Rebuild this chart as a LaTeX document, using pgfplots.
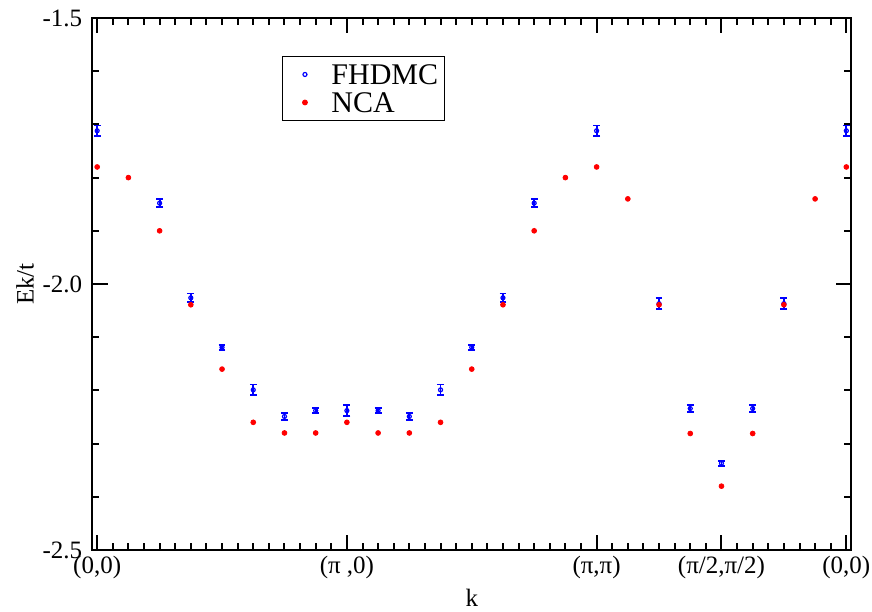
\documentclass[border=0pt]{standalone}
\usepackage{fontspec}
\setmainfont{Liberation Serif}
\usepackage{pgfplots}
\pgfplotsset{compat=1.18}
\begin{document}
\begin{tikzpicture}
\path[use as bounding box] (-46.25pt,-30.5pt) rectangle (389.75pt,275pt);
\begin{axis}[
  scale only axis,
  width=379.25pt, height=266pt,
  xmin=-0.15, xmax=24.15,
  ymin=-2.5, ymax=-1.5,
  axis line style={line width=1pt},
  every tick/.style={black, line width=1pt},
  tick align=inside,
  major tick length=7.5pt,
  minor tick length=3.5pt,
  xtick={0,8,16,20,24},
  xticklabels={(0,0),(π ,0),(π,π),(π/2,π/2),(0,0)},
  minor xtick={0,0.5,...,24},
  ytick={-2.5,-2.0,-1.5},
  yticklabels={-2.5,-2.0,-1.5},
  minor ytick={-2.4,-2.3,-2.2,-2.1,-1.9,-1.8,-1.7,-1.6},
  tick label style={font=\fontsize{12.5}{14}\selectfont},
  yticklabel style={inner sep=0pt, xshift=-5pt},
  xticklabel style={inner sep=0pt, yshift=-3pt},
  xlabel={k},
  ylabel={Ek/t},
  every axis x label/.style={at={(axis description cs:0.5,0)}, anchor=center, yshift=-24pt, inner sep=0pt, font=\fontsize{12.5}{14}\selectfont},
  every axis y label/.style={at={(axis description cs:0,0.5)}, xshift=-33.75pt, anchor=center, rotate=90, inner sep=0pt, font=\fontsize{12.5}{14}\selectfont},
  legend style={at={(0.2498,0.9286)}, anchor=north west, draw=black, line width=0.5pt,
    font=\fontsize{15}{15}\selectfont, row sep=4pt, column sep=5pt,
    inner xsep=3pt, inner ysep=4pt,
    nodes={inner sep=0pt, text height=10pt, text depth=0pt}},
  legend cell align=left,
  legend image code/.code={\path (0pt,0pt) (16pt,0pt); \draw[#1] plot coordinates {(8pt,0pt)};},
]
\addplot[only marks, blue, mark=o, mark size=1pt, mark options={line width=0.6pt},
  error bars/.cd, y dir=both, y explicit,
  error bar style={line width=0.9pt, blue},
  error mark options={rotate=90, mark size=1.7pt, line width=0.9pt, blue}]
  table[x=x, y=y, y error=e] {
x y e
0 -1.712 0.010
2 -1.848 0.008
3 -2.026 0.008
4 -2.119 0.005
5 -2.199 0.010
6 -2.249 0.006
7 -2.238 0.005
8 -2.238 0.010
9 -2.238 0.005
10 -2.249 0.006
11 -2.199 0.010
12 -2.119 0.005
13 -2.026 0.008
14 -1.848 0.008
16 -1.712 0.010
18 -2.037 0.010
19 -2.234 0.007
20 -2.337 0.005
21 -2.234 0.007
22 -2.037 0.010
24 -1.712 0.010
};
\addlegendentry{FHDMC}
\addplot[only marks, red, mark=*, mark size=1.2pt] table[x=x, y=y] {
x y
0 -1.780
1 -1.800
2 -1.900
3 -2.039
4 -2.160
5 -2.260
6 -2.280
7 -2.280
8 -2.260
9 -2.280
10 -2.280
11 -2.260
12 -2.160
13 -2.039
14 -1.900
15 -1.800
16 -1.780
17 -1.840
18 -2.039
19 -2.281
20 -2.380
21 -2.281
22 -2.039
23 -1.840
24 -1.780
};
\addlegendentry{NCA}
\end{axis}
\end{tikzpicture}
\end{document}
